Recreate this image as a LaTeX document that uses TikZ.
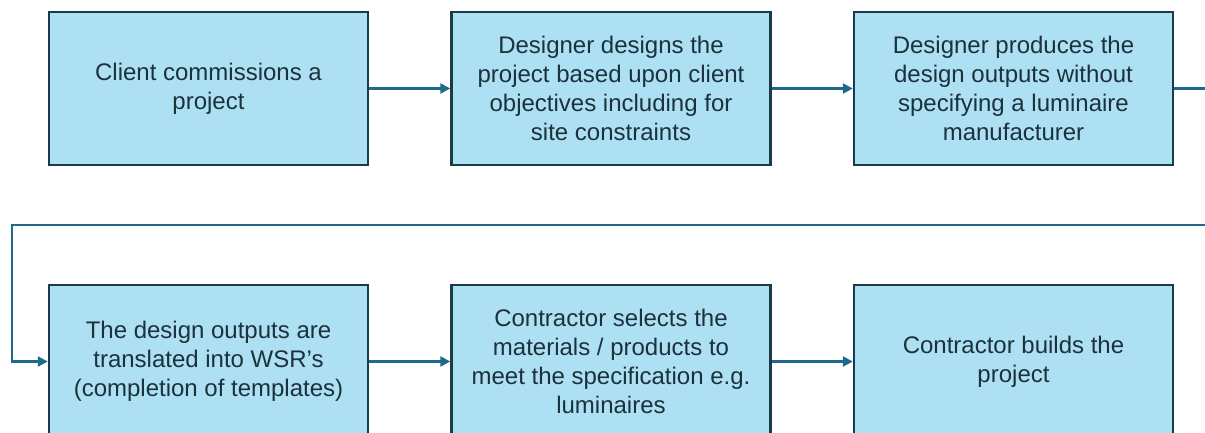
\documentclass[tikz,border=0pt]{standalone}
\usepackage{fontspec}
\setmainfont{Liberation Sans}
\usetikzlibrary{arrows.meta}
\definecolor{boxfill}{HTML}{ADE0F3}
\definecolor{boxline}{HTML}{1A3C48}
\definecolor{arrowc}{HTML}{1D6A8B}
\definecolor{txt}{HTML}{1B323C}
\begin{document}
\begin{tikzpicture}[x=1pt,y=-1pt,
  box/.style={draw=boxline, line width=2.4pt, fill=boxfill, minimum width=319pt, minimum height=153pt, inner sep=0pt, align=center, text=txt, font=\fontsize{24}{29}\selectfont},
  conn/.style={draw=arrowc, line width=2.2pt, -{Triangle[length=10pt,width=10pt]}}]
\useasboundingbox (0,0) rectangle (1205,432);
\clip (0,0) rectangle (1205,432);
\node[box] (b1) at (208.5,88.5) {Client commissions a\\project};
\node[box] (b2) at (611,88.5) {Designer designs the\\project based upon client\\objectives including for\\site constraints};
\node[box] (b3) at (1013.5,88.5) {Designer produces the\\design outputs without\\specifying a luminaire\\manufacturer};
\node[box] (b4) at (208.5,361.5) {The design outputs are\\translated into WSR’s\\(completion of templates)};
\node[box] (b5) at (611,361.5) {Contractor selects the\\materials / products to\\meet the specification e.g.\\luminaires};
\node[box] (b6) at (1013.5,361.5) {Contractor builds the\\project};
\coordinate (r1) at (1215,88.5);
\coordinate (r2) at (1215,225);
\coordinate (l1) at (12,225);
\draw[conn] (b1) -- (b2);
\draw[conn] (b2) -- (b3);
\draw[conn] (b3.east) -- (r1) -- (r2) -- (l1) |- (b4.west);
\draw[conn] (b4) -- (b5);
\draw[conn] (b5) -- (b6);
\end{tikzpicture}
\end{document}
